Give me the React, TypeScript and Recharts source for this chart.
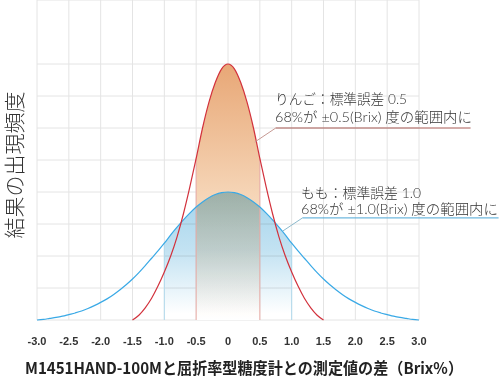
import React from 'react';
import { ComposedChart, Line, Area, XAxis, YAxis, CartesianGrid, ReferenceLine } from 'recharts';

// x positions (Brix% difference)
const xs = [
  -3.0, -2.9, -2.8, -2.7, -2.6, -2.5, -2.4, -2.3, -2.2, -2.1,
  -2.0, -1.9, -1.8, -1.7, -1.6, -1.5, -1.4, -1.3, -1.2, -1.1,
  -1.0, -0.9, -0.8, -0.7, -0.6, -0.5, -0.4, -0.3, -0.2, -0.1,
  0.0, 0.1, 0.2, 0.3, 0.4, 0.5, 0.6, 0.7, 0.8, 0.9,
  1.0, 1.1, 1.2, 1.3, 1.4, 1.5, 1.6, 1.7, 1.8, 1.9,
  2.0, 2.1, 2.2, 2.3, 2.4, 2.5, 2.6, 2.7, 2.8, 2.9, 3.0,
];

// もも (std error 1.0)
const peach = [
  0.0, 0.02, 0.05, 0.08, 0.12, 0.17, 0.22, 0.28, 0.36, 0.45,
  0.55, 0.66, 0.79, 0.94, 1.1, 1.28, 1.48, 1.7, 1.93, 2.16,
  2.4, 2.66, 2.9, 3.13, 3.34, 3.53, 3.69, 3.82, 3.92, 3.98,
  4.0, 3.98, 3.92, 3.82, 3.69, 3.53, 3.34, 3.13, 2.9, 2.66,
  2.4, 2.16, 1.93, 1.7, 1.48, 1.28, 1.1, 0.94, 0.79, 0.66,
  0.55, 0.45, 0.36, 0.28, 0.22, 0.17, 0.12, 0.08, 0.05, 0.02, 0.0,
];

// りんご (std error 0.5), only drawn between -1.5 and 1.5
const apple = [
  null, null, null, null, null, null, null, null, null, null,
  null, null, null, null, null, 0.0, 0.15, 0.38, 0.68, 1.06,
  1.5, 2.0, 2.6, 3.32, 4.15, 5.05, 6.0, 6.8, 7.42, 7.85,
  8.0, 7.85, 7.42, 6.8, 6.0, 5.05, 4.15, 3.32, 2.6, 2.0,
  1.5, 1.06, 0.68, 0.38, 0.15, 0.0, null, null, null, null,
  null, null, null, null, null, null, null, null, null, null, null,
];

const tickValues = [-3, -2.5, -2, -1.5, -1, -0.5, 0, 0.5, 1, 1.5, 2, 2.5, 3];
const tickLabels = ['-3.0', '-2.5', '-2.0', '-1.5', '-1.0', '-0.5', '0', '0.5', '1.0', '1.5', '2.0', '2.5', '3.0'];
const gridRows = [0, 1, 2, 3, 4, 5, 6, 7, 8, 9, 10];

const appleRange = 0.5;
const peachRange = 1.0;

const data = xs.map((x, i) => ({
  x,
  apple: apple[i],
  peach: peach[i],
  appleFill: Math.abs(x) <= appleRange + 1e-6 ? apple[i] : null,
  peachFill: Math.abs(x) <= peachRange + 1e-6 ? peach[i] : null,
}));

const valueAt = (arr: (number | null)[], x: number) => {
  const i = xs.findIndex((v) => Math.abs(v - x) < 1e-6);
  return (arr[i] as number) || 0;
};

const jp = '"Noto Sans CJK JP", "Noto Sans", sans-serif';
const note = 'Lato, "Noto Sans CJK JP", sans-serif';

export default function App() {
  return (
    <div style={{ position: 'absolute', left: 0, top: 0, width: 500, height: 384, background: '#fff' }}>
      <style>{`.peach-fill path { mix-blend-mode: multiply; }`}</style>
      <ComposedChart width={500} height={384} data={data} margin={{ top: 0, right: 81, bottom: 0, left: 37 }}>
        <defs>
          <linearGradient id="appleGrad" x1="0" y1="0" x2="0" y2="1">
            <stop offset="0%" stopColor="#e8a776" />
            <stop offset="50%" stopColor="#f5d4b5" />
            <stop offset="100%" stopColor="#ffffff" />
          </linearGradient>
          <linearGradient id="peachGrad" x1="0" y1="0" x2="0" y2="1">
            <stop offset="0%" stopColor="#a4d4ec" />
            <stop offset="45%" stopColor="#c2e2f2" />
            <stop offset="95%" stopColor="#ffffff" />
          </linearGradient>
        </defs>
        <CartesianGrid stroke="#e4e4e4" horizontalValues={gridRows} verticalValues={tickValues} />
        <XAxis
          dataKey="x"
          type="number"
          domain={[-3, 3]}
          ticks={tickValues}
          tickFormatter={(v: number) => tickLabels[tickValues.indexOf(v)]}
          axisLine={false}
          tickLine={false}
          tickSize={0}
          tickMargin={17}
          height={64}
          interval={0}
          tick={{ fontSize: 11, fontWeight: 'bold', fill: '#333', fontFamily: '"Liberation Sans", Arial, sans-serif' }}
        />
        <YAxis hide domain={[0, 10]} ticks={gridRows} />
        <Area type="monotone" dataKey="appleFill" stroke="none" fill="url(#appleGrad)" fillOpacity={1} isAnimationActive={false} />
        <Area type="monotone" dataKey="peachFill" className="peach-fill" stroke="none" fill="url(#peachGrad)" fillOpacity={1} isAnimationActive={false} />
        <ReferenceLine segment={[{ x: -appleRange, y: 0 }, { x: -appleRange, y: valueAt(apple, -appleRange) }]} stroke="#e8aaa4" />
        <ReferenceLine segment={[{ x: appleRange, y: 0 }, { x: appleRange, y: valueAt(apple, appleRange) }]} stroke="#e8aaa4" />
        <ReferenceLine segment={[{ x: -peachRange, y: 0 }, { x: -peachRange, y: valueAt(peach, -peachRange) }]} stroke="#b2dbee" />
        <ReferenceLine segment={[{ x: peachRange, y: 0 }, { x: peachRange, y: valueAt(peach, peachRange) }]} stroke="#b2dbee" />
        <Line type="monotone" dataKey="peach" stroke="#39a9e6" strokeWidth={1.2} dot={false} activeDot={false} isAnimationActive={false} />
        <Line type="monotone" dataKey="apple" stroke="#d2313c" strokeWidth={1.2} dot={false} activeDot={false} isAnimationActive={false} />
        {/* leader lines for the notes */}
        <ReferenceLine ifOverflow="visible" segment={[{ x: 0.42, y: 5.56 }, { x: 0.75, y: 6.0 }]} stroke="#c79a94" />
        <ReferenceLine ifOverflow="visible" segment={[{ x: 0.75, y: 6.0 }, { x: 3.81, y: 6.0 }]} stroke="#a85b55" />
        <ReferenceLine ifOverflow="visible" segment={[{ x: 0.86, y: 2.78 }, { x: 1.17, y: 3.19 }]} stroke="#8dbacd" />
        <ReferenceLine ifOverflow="visible" segment={[{ x: 1.17, y: 3.19 }, { x: 4.25, y: 3.19 }]} stroke="#4ba6d6" />
      </ComposedChart>
      <svg width={500} height={384} style={{ position: 'absolute', left: 0, top: 0, pointerEvents: 'none' }}>
        <text transform="translate(13,165) rotate(-90)" textAnchor="middle" dominantBaseline="central" fontSize={21} fill="#333" fontFamily={note} fontWeight={300}>
          結果の出現頻度
        </text>
        <text x={25} y={374} fontSize={16} fontWeight="bold" fill="#222" fontFamily={jp} textLength={438} lengthAdjust="spacingAndGlyphs">
          M1451HAND-100Mと屈折率型糖度計との測定値の差（Brix%）
        </text>
        <text x={275} y={104} fontSize={14} fill="#333" fontFamily={note} fontWeight={300} textLength={132} lengthAdjust="spacingAndGlyphs">
          りんご：標準誤差 0.5
        </text>
        <text x={275} y={121.5} fontSize={14} fill="#333" fontFamily={note} fontWeight={300} textLength={197} lengthAdjust="spacingAndGlyphs">
          68%が ±0.5(Brix) 度の範囲内に
        </text>
        <text x={301} y={198} fontSize={14} fill="#333" fontFamily={note} fontWeight={300} textLength={120} lengthAdjust="spacingAndGlyphs">
          もも：標準誤差 1.0
        </text>
        <text x={301} y={213.5} fontSize={14} fill="#333" fontFamily={note} fontWeight={300} textLength={197} lengthAdjust="spacingAndGlyphs">
          68%が ±1.0(Brix) 度の範囲内に
        </text>
      </svg>
    </div>
  );
}
